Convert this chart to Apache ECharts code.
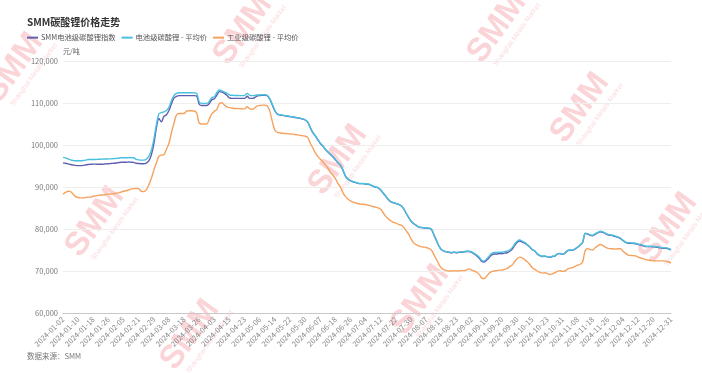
<!DOCTYPE html>
<html>
<head>
<meta charset="utf-8">
<script src="https://cdn.jsdelivr.net/npm/echarts@6/dist/echarts.min.js"></script>
<style>
html,body{margin:0;padding:0;background:#fff;}
#chart{width:702px;height:373px;}
</style>
</head>
<body>
<div id="chart"></div>
<script>
const titleText = 'SMM碳酸锂价格走势';
const seriesNames = ['SMM电池级碳酸锂指数', '电池级碳酸锂 - 平均价', '工业级碳酸锂 - 平均价'];
const unitText = '元/吨';
const sourceText = '数据来源：SMM';

const dates = [
'2024-01-02','2024-01-03','2024-01-04','2024-01-05','2024-01-08','2024-01-09','2024-01-10','2024-01-11','2024-01-12','2024-01-15','2024-01-16','2024-01-17','2024-01-18','2024-01-19','2024-01-22','2024-01-23','2024-01-24','2024-01-25','2024-01-26','2024-01-29','2024-01-30','2024-01-31',
'2024-02-01','2024-02-02','2024-02-05','2024-02-06','2024-02-07','2024-02-08','2024-02-19','2024-02-20','2024-02-21','2024-02-22','2024-02-23','2024-02-26','2024-02-27','2024-02-28','2024-02-29',
'2024-03-01','2024-03-04','2024-03-05','2024-03-06','2024-03-07','2024-03-08','2024-03-11','2024-03-12','2024-03-13','2024-03-14','2024-03-15','2024-03-18','2024-03-19','2024-03-20','2024-03-21','2024-03-22','2024-03-25','2024-03-26','2024-03-27','2024-03-28','2024-03-29',
'2024-04-01','2024-04-02','2024-04-03','2024-04-08','2024-04-09','2024-04-10','2024-04-11','2024-04-12','2024-04-15','2024-04-16','2024-04-17','2024-04-18','2024-04-19','2024-04-22','2024-04-23','2024-04-24','2024-04-25','2024-04-26','2024-04-29','2024-04-30',
'2024-05-06','2024-05-07','2024-05-08','2024-05-09','2024-05-10','2024-05-13','2024-05-14','2024-05-15','2024-05-16','2024-05-17','2024-05-20','2024-05-21','2024-05-22','2024-05-23','2024-05-24','2024-05-27','2024-05-28','2024-05-29','2024-05-30','2024-05-31',
'2024-06-03','2024-06-04','2024-06-05','2024-06-06','2024-06-07','2024-06-11','2024-06-12','2024-06-13','2024-06-14','2024-06-17','2024-06-18','2024-06-19','2024-06-20','2024-06-21','2024-06-24','2024-06-25','2024-06-26','2024-06-27','2024-06-28',
'2024-07-01','2024-07-02','2024-07-03','2024-07-04','2024-07-05','2024-07-08','2024-07-09','2024-07-10','2024-07-11','2024-07-12','2024-07-15','2024-07-16','2024-07-17','2024-07-18','2024-07-19','2024-07-22','2024-07-23','2024-07-24','2024-07-25','2024-07-26','2024-07-29','2024-07-30','2024-07-31',
'2024-08-01','2024-08-02','2024-08-05','2024-08-06','2024-08-07','2024-08-08','2024-08-09','2024-08-12','2024-08-13','2024-08-14','2024-08-15','2024-08-16','2024-08-19','2024-08-20','2024-08-21','2024-08-22','2024-08-23','2024-08-26','2024-08-27','2024-08-28','2024-08-29','2024-08-30',
'2024-09-02','2024-09-03','2024-09-04','2024-09-05','2024-09-06','2024-09-09','2024-09-10','2024-09-11','2024-09-12','2024-09-13','2024-09-18','2024-09-19','2024-09-20','2024-09-23','2024-09-24','2024-09-25','2024-09-26','2024-09-27','2024-09-30',
'2024-10-08','2024-10-09','2024-10-10','2024-10-11','2024-10-14','2024-10-15','2024-10-16','2024-10-17','2024-10-18','2024-10-21','2024-10-22','2024-10-23','2024-10-24','2024-10-25','2024-10-28','2024-10-29','2024-10-30','2024-10-31',
'2024-11-01','2024-11-04','2024-11-05','2024-11-06','2024-11-07','2024-11-08','2024-11-11','2024-11-12','2024-11-13','2024-11-14','2024-11-15','2024-11-18','2024-11-19','2024-11-20','2024-11-21','2024-11-22','2024-11-25','2024-11-26','2024-11-27','2024-11-28','2024-11-29',
'2024-12-02','2024-12-03','2024-12-04','2024-12-05','2024-12-06','2024-12-09','2024-12-10','2024-12-11','2024-12-12','2024-12-13','2024-12-16','2024-12-17','2024-12-18','2024-12-19','2024-12-20','2024-12-23','2024-12-24','2024-12-25','2024-12-26','2024-12-27','2024-12-30','2024-12-31'
];

const smmIndex = [
95750,95650,95500,95350,95250,95150,95100,95100,95150,95250,95350,95400,95450,95450,95400,95400,95450,95500,95550,95600,95650,95700,
95800,95900,95900,95900,95950,95900,95850,95650,95600,95550,95550,95700,96200,97600,100200,
104000,106300,105500,106800,107200,108200,109800,111200,111600,111750,111750,111750,111750,111750,111750,111750,111650,109700,109400,109400,109400,
109900,110800,111000,111900,112700,112600,112300,111800,111200,111100,111100,111100,111100,111100,111100,111600,111100,111100,111300,111700,
111800,111850,111850,111750,110900,109500,108100,107350,107150,107050,106950,106850,106750,106650,106550,106450,106350,106150,105950,105450,
104150,102950,102150,101250,100350,99750,98950,98350,97750,97150,96450,95750,95150,93950,92550,91850,91450,91250,91050,
90850,90800,90800,90650,90650,90450,90150,89950,89750,89250,88450,87750,86950,86450,86250,86050,85850,85550,84850,83750,82750,81850,81250,
80850,80450,80350,80250,80250,80150,79950,78650,77250,75950,75050,74750,74550,74450,74350,74450,74350,74450,74450,74550,74650,74650,
74450,74050,73600,73050,72250,72150,72600,73250,73850,74050,74050,74150,74100,74250,74350,74650,75150,76050,76800,
77150,76900,76650,76200,75700,75050,74750,74050,73650,73450,73550,73350,73250,73450,73550,74050,74150,73950,
74250,74850,74950,74900,75250,75650,76150,76850,78900,78800,78500,78400,78800,79100,79350,79200,78900,78600,78500,78400,78200,
78000,77700,77200,76800,76600,76600,76550,76500,76300,76200,76000,75800,75800,75800,75750,75700,75600,75500,75400,75400,75300,75000
];

const batteryAvg = [
97050,96950,96700,96450,96300,96250,96250,96250,96300,96400,96550,96550,96550,96550,96600,96600,96650,96650,96700,96700,96750,96800,
96850,96950,96950,96950,97000,96950,96950,96600,96450,96400,96400,96600,97300,98700,101300,
104800,107400,107700,107900,108200,109000,110600,111800,112300,112450,112450,112450,112450,112450,112450,112400,112300,110300,109900,109900,109900,
110400,111300,111500,112500,113100,112900,112600,112300,111900,111850,111800,111800,111750,111750,111800,112300,111800,111750,111800,111900,
111900,111950,111950,111800,111000,109600,108200,107400,107200,107100,107000,106900,106800,106700,106600,106500,106400,106200,106000,105500,
104200,103000,102200,101300,100400,99800,99000,98400,97800,97200,96500,95800,95200,94000,92600,91900,91500,91300,91100,
90900,90850,90850,90700,90700,90500,90200,90000,89800,89300,88500,87800,87000,86500,86300,86100,85900,85600,84900,83800,82800,81900,81300,
80900,80500,80400,80300,80300,80200,80000,78700,77300,76000,75100,74800,74600,74500,74400,74500,74400,74500,74500,74600,74700,74700,
74550,74200,73800,73300,72500,72400,72900,73600,74200,74400,74400,74500,74450,74600,74700,75000,75500,76400,77100,
77400,77100,76800,76300,75800,75100,74800,74100,73700,73500,73600,73400,73300,73500,73600,74100,74200,74000,
74300,74900,75000,74950,75300,75700,76200,76900,79000,78900,78600,78500,78900,79200,79450,79300,79000,78700,78600,78500,78300,
78100,77800,77300,76900,76700,76700,76650,76600,76400,76300,76100,75900,75900,75900,75850,75800,75700,75600,75500,75500,75400,75100
];

const industrialAvg = [
88300,88700,89000,88900,88300,87700,87500,87400,87400,87500,87600,87600,87800,87900,88000,88100,88100,88200,88300,88300,88400,88500,
88600,88800,89000,89100,89300,89500,89600,89650,89600,89000,88900,89300,90500,92000,94000,
95700,97300,97600,97700,99000,100400,103000,105200,107200,107500,107500,107500,108100,108150,108150,108100,107600,105200,105000,105000,105000,
106200,107400,108000,108500,109900,110050,109500,109100,108900,108800,108700,108700,108650,108600,108600,109100,108600,108500,108800,109300,
109400,109500,109500,109300,108000,105500,103500,103000,102900,102800,102750,102700,102650,102600,102500,102400,102300,102200,102100,101800,
100400,99300,98200,97300,96600,96000,95300,94500,93500,92800,92000,90800,90000,88600,87700,87100,86700,86400,86200,
86000,85900,85900,85800,85700,85500,85300,85200,85000,84700,83800,83000,82400,81900,81600,81400,81100,80900,80500,79600,78800,77600,76700,
76300,76000,75800,75700,75600,75400,75000,73900,72800,71600,70700,70300,70100,70000,70000,70050,70000,70050,70100,70100,70300,70500,
70200,70000,69700,69200,68300,68200,68800,69500,69900,70000,70100,70200,70200,70400,70600,71000,71400,72200,72900,
73300,73100,72700,72200,71600,70800,70400,70000,69700,69500,69600,69400,69200,69300,69600,69900,70100,69900,
70000,70500,70700,70800,71100,71400,71600,72200,74900,75300,75100,75000,75600,76000,76300,76100,75700,75400,75300,75300,75200,
75300,75300,74700,74200,73800,73700,73650,73600,73300,73100,72900,72700,72600,72500,72450,72400,72400,72400,72400,72300,72200,71900
];

const seriesColors = ['#5d5fae', '#48c0de', '#f6a25e'];

const watermarkSpots = [
  [14, 68], [95, 222], [190, 335], [243, 30], [338, 160], [420, 300], [497, 28], [580, 108], [668, 228]
];

const chart = echarts.init(document.getElementById('chart'), null, {renderer: 'canvas'});
const FONT = '"Noto Sans CJK SC", "Noto Sans", sans-serif';
const lastIdx = dates.length - 1;

const watermarkGraphics = watermarkSpots.map(p => ({
  type: 'group',
  x: p[0], y: p[1],
  rotation: 0.95,
  silent: true,
  z: 100,
  children: [
    {type: 'text', x: 0, y: 0, style: {text: 'SMM', fontSize: 33, fontWeight: 'bold', fontFamily: 'Liberation Sans, sans-serif', fill: 'rgba(235,90,100,0.26)', align: 'center', verticalAlign: 'middle'}},
    {type: 'text', x: 6, y: 20, style: {text: 'Shanghai Metals Market', fontSize: 7, fontFamily: 'Liberation Sans, sans-serif', fill: 'rgba(235,90,100,0.24)', align: 'center', verticalAlign: 'middle'}}
  ]
}));

const option = {
  backgroundColor: '#fff',
  animation: false,
  textStyle: {fontFamily: FONT},
  title: {
    text: titleText,
    left: 27, top: 17, padding: 0,
    textStyle: {fontSize: 10, fontWeight: 'bold', color: '#333', fontFamily: FONT}
  },
  legend: {
    left: 27, top: 34, padding: 0,
    icon: 'rect',
    itemWidth: 11, itemHeight: 2,
    itemGap: 6,
    textStyle: {fontSize: 7.3, color: '#555', fontFamily: FONT, padding: [0, 0, 0, -2]},
    data: seriesNames
  },
  grid: {left: 63, right: 31, top: 61, bottom: 60, containLabel: false},
  xAxis: {
    type: 'category',
    boundaryGap: false,
    data: dates,
    axisLine: {lineStyle: {color: '#c8c8c8'}},
    axisTick: {show: false},
    axisLabel: {
      rotate: 45,
      fontSize: 7.5,
      color: '#888',
      margin: 5,
      fontFamily: FONT,
      interval: function (idx) { return (idx % 6 === 0 && idx < lastIdx - 1) || idx === lastIdx; }
    }
  },
  yAxis: {
    type: 'value',
    min: 60000, max: 120000, interval: 10000,
    name: unitText,
    nameLocation: 'end',
    nameGap: 6,
    nameTextStyle: {fontSize: 7, color: '#666', align: 'left', fontFamily: FONT},
    axisLine: {show: false},
    axisTick: {show: false},
    splitLine: {lineStyle: {color: '#eeeeee'}},
    axisLabel: {
      fontSize: 7.5, color: '#777', margin: 5, fontFamily: FONT,
      formatter: v => v.toLocaleString('en-US')
    }
  },
  series: [
    {name: seriesNames[0], type: 'line', data: smmIndex, showSymbol: false, smooth: 0.3, lineStyle: {width: 1.4, color: seriesColors[0]}, itemStyle: {color: seriesColors[0]}, z: 2},
    {name: seriesNames[1], type: 'line', data: batteryAvg, showSymbol: false, smooth: 0.3, lineStyle: {width: 1.4, color: seriesColors[1]}, itemStyle: {color: seriesColors[1]}, z: 3},
    {name: seriesNames[2], type: 'line', data: industrialAvg, showSymbol: false, smooth: 0.3, lineStyle: {width: 1.4, color: seriesColors[2]}, itemStyle: {color: seriesColors[2]}, z: 4}
  ],
  graphic: [
    {type: 'text', left: 27, top: 352, style: {text: sourceText, fontSize: 7.5, fill: '#777', fontFamily: FONT}}
  ].concat(watermarkGraphics)
};

chart.setOption(option);
</script>
</body>
</html>
